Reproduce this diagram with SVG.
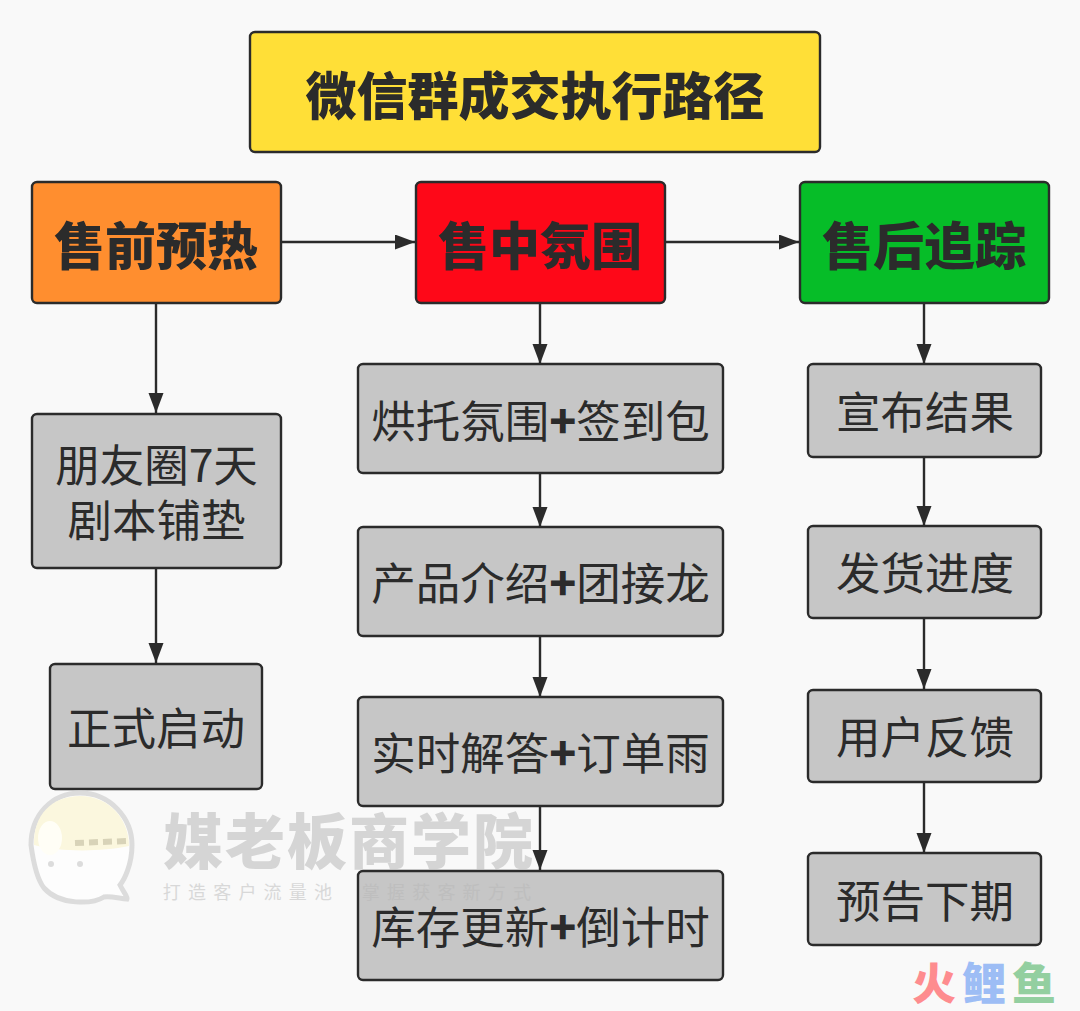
<svg xmlns="http://www.w3.org/2000/svg" width="1080" height="1011" viewBox="0 0 1080 1011">
<style>
text{font-family:"Noto Sans CJK SC","Liberation Sans",sans-serif;text-anchor:middle;fill:#2b2b2b}
.b{stroke:#2b2b2b;stroke-width:2.400}
.g{fill:#c6c6c6}
.t{font-size:44.5px}
.h{font-size:51px;font-weight:900}
.p{font-weight:900}
.c{stroke:#2b2b2b;stroke-width:2.400;fill:none;marker-end:url(#a)}
.wm{fill:#b8b8b8}
.s{font-size:18px;letter-spacing:7.200px}
.f{font-size:44px;font-weight:900}
</style>
<defs><marker id="a" markerUnits="userSpaceOnUse" markerWidth="21" markerHeight="16" refX="20" refY="7.500" orient="auto"><path d="M0 0L20 7.500L0 15Z" fill="#2b2b2b"/></marker></defs>
<rect width="1080" height="1011" fill="#f9f9f9"/>
<g id="connectors">
<path class="c" d="M281 242H415"/>
<path class="c" d="M665 242H799"/>
<path class="c" d="M156 303V413"/>
<path class="c" d="M156 568V663"/>
<path class="c" d="M540 303V364"/>
<path class="c" d="M540 473V527"/>
<path class="c" d="M540 636V697"/>
<path class="c" d="M540 806V870"/>
<path class="c" d="M924 303V364"/>
<path class="c" d="M924 457V526"/>
<path class="c" d="M924 618V689"/>
<path class="c" d="M924 782V853"/>
</g>
<g id="title"><rect class="b" x="250" y="32" width="570" height="120" rx="5" fill="#ffdf37"/><text class="h" x="535" y="115">微信群成交执行路径</text></g>
<g id="pre"><rect class="b" x="32" y="182" width="249" height="121" rx="5" fill="#ff8e2f"/><text class="h" x="156" y="265">售前预热</text></g>
<g id="mid"><rect class="b" x="416" y="182" width="249" height="121" rx="5" fill="#fe0818"/><text class="h" x="540" y="265">售中氛围</text></g>
<g id="post"><rect class="b" x="800" y="182" width="249" height="121" rx="5" fill="#06bd28"/><text class="h" x="924" y="265">售后追踪</text></g>
<g id="pre1"><rect class="b g" x="32" y="414" width="249" height="154" rx="5"/><text class="t" x="156.500" y="482">朋友圈7天</text><text class="t" x="156.500" y="537">剧本铺垫</text></g>
<g id="pre2"><rect class="b g" x="50" y="664" width="212" height="125" rx="5"/><text class="t" x="156" y="745">正式启动</text></g>
<g id="mid1"><rect class="b g" x="358" y="364" width="365" height="109" rx="5"/><text class="t" x="540.500" y="438">烘托氛围<tspan class="p">+</tspan>签到包</text></g>
<g id="mid2"><rect class="b g" x="358" y="527" width="365" height="109" rx="5"/><text class="t" x="540.500" y="600">产品介绍<tspan class="p">+</tspan>团接龙</text></g>
<g id="mid3"><rect class="b g" x="358" y="697" width="365" height="109" rx="5"/><text class="t" x="540.500" y="770">实时解答<tspan class="p">+</tspan>订单雨</text></g>
<g id="mid4"><rect class="b g" x="358" y="871" width="365" height="109" rx="5"/><text class="t" x="540.500" y="944">库存更新<tspan class="p">+</tspan>倒计时</text></g>
<g id="post1"><rect class="b g" x="808" y="364" width="233" height="93" rx="5"/><text class="t" x="925" y="429">宣布结果</text></g>
<g id="post2"><rect class="b g" x="808" y="526" width="233" height="92" rx="5"/><text class="t" x="925" y="590">发货进度</text></g>
<g id="post3"><rect class="b g" x="808" y="690" width="233" height="92" rx="5"/><text class="t" x="925" y="754">用户反馈</text></g>
<g id="post4"><rect class="b g" x="808" y="853" width="233" height="92" rx="5"/><text class="t" x="925" y="918">预告下期</text></g>
<g id="watermark">
<path d="M80 793C110 793 132 818 132 845C132 865 124 880 120 885C124 893 128 897 127 899C118 898 110 896 104 897C93 904 60 906 44 888C36 878 33 860 31 845C31 815 52 793 80 793Z" fill="#fdfdfd" stroke="#dcdcdc" stroke-width="5"/>
<path d="M34 845C33 815 52 796 80 796C110 796 129 820 129 846C100 852 60 852 34 845Z" fill="#fbf7de"/>
<ellipse cx="50" cy="838" rx="12" ry="17" fill="#fffef6"/>
<path d="M75 843L127 841" stroke="#d8d3b8" stroke-width="6" stroke-dasharray="9 5" fill="none"/>
<circle cx="51" cy="864" r="3" fill="#dcdcdc"/><circle cx="80" cy="864" r="3" fill="#dcdcdc"/>
<text class="wm" x="349" y="864" style="font-size:60px;font-weight:900;letter-spacing:2px" opacity=".55">媒老板商学院</text>
<text class="wm s" x="251" y="899" opacity=".5">打造客户流量池</text>
<text class="wm s" x="450" y="899" opacity=".55">掌握获客新方式</text>
<text class="f" x="934" y="1000" style="fill:#fe8c8f">火</text>
<text class="f" x="984" y="1000" style="fill:#9dbdf5">鲤</text>
<text class="f" x="1034" y="1000" style="fill:#93cfa0">鱼</text>
</g>
</svg>
